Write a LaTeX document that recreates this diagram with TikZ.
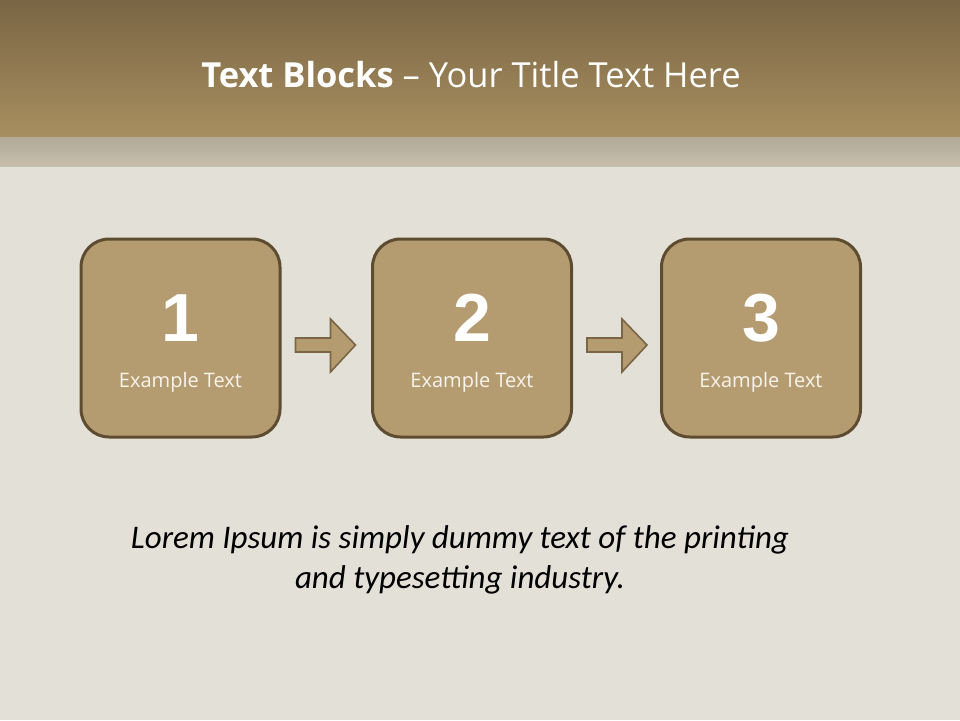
\documentclass[tikz,border=0pt]{standalone}
\usepackage{fontspec}
\setmainfont{Carlito}
\newfontfamily\numfont{Liberation Sans}
\newfontfamily\osans{Open Sans}
\definecolor{hdrtop}{RGB}{122,101,68}
\definecolor{hdrbot}{RGB}{168,143,96}
\definecolor{band}{RGB}{198,189,171}
\definecolor{bgc}{RGB}{227,224,216}
\definecolor{boxfill}{RGB}{181,156,112}
\definecolor{boxline}{RGB}{94,76,48}
\definecolor{arrline}{RGB}{122,101,68}
\definecolor{lighttxt}{RGB}{248,244,236}
\tikzset{
  stepbox/.style={draw=boxline, line width=3pt, fill=boxfill, rounded corners=28pt,
    minimum width=199pt, minimum height=198pt, inner sep=0pt},
  bignum/.style={font=\numfont\bfseries\fontsize{68}{68}\selectfont, text=white},
  smalltxt/.style={font=\osans\fontsize{20}{24}\selectfont, text=lighttxt},
  blockarrow/.style={draw=arrline, line width=1.6pt, fill=boxfill, line join=miter}
}
\begin{document}
\begin{tikzpicture}[x=1pt,y=-1pt]
\useasboundingbox (0,0) rectangle (960,720);
\fill[bgc] (0,0) rectangle (960,720);
\shade[top color=hdrtop, bottom color=hdrbot] (0,0) rectangle (960,137);
\shade[top color=band!90!black, bottom color=band] (0,137) rectangle (960,166);
\node[font=\osans\fontsize{34.5}{40}\selectfont, text=white, anchor=center] (title) at (471,75)
  {\textbf{Text Blocks} – Your Title Text Here};

\foreach \i/\cx in {1/180.5, 2/472, 3/761} {
  \node[stepbox] (b\i) at (\cx,338) {};
  \node[bignum] (n\i) at (\cx,318) {\i};
  \node[smalltxt] (t\i) at (\cx,382) {Example Text};
}

% block arrows
\foreach \a/\b in {b1/b2, b2/b3} {
  \path (\a.east) ++(14,7) coordinate (s);
  \draw[blockarrow] (s) ++(0,-7) -- ++(35,0) -- ++(0,-19) -- ++(25,26) -- ++(-25,27)
    -- ++(0,-20) -- ++(-35,0) -- cycle;
}

\node[font=\itshape\fontsize{33}{40}\selectfont, text=black, align=center] (lorem) at (460,560)
  {Lorem Ipsum is simply dummy text of the printing\\and typesetting industry.};
\end{tikzpicture}
\end{document}
